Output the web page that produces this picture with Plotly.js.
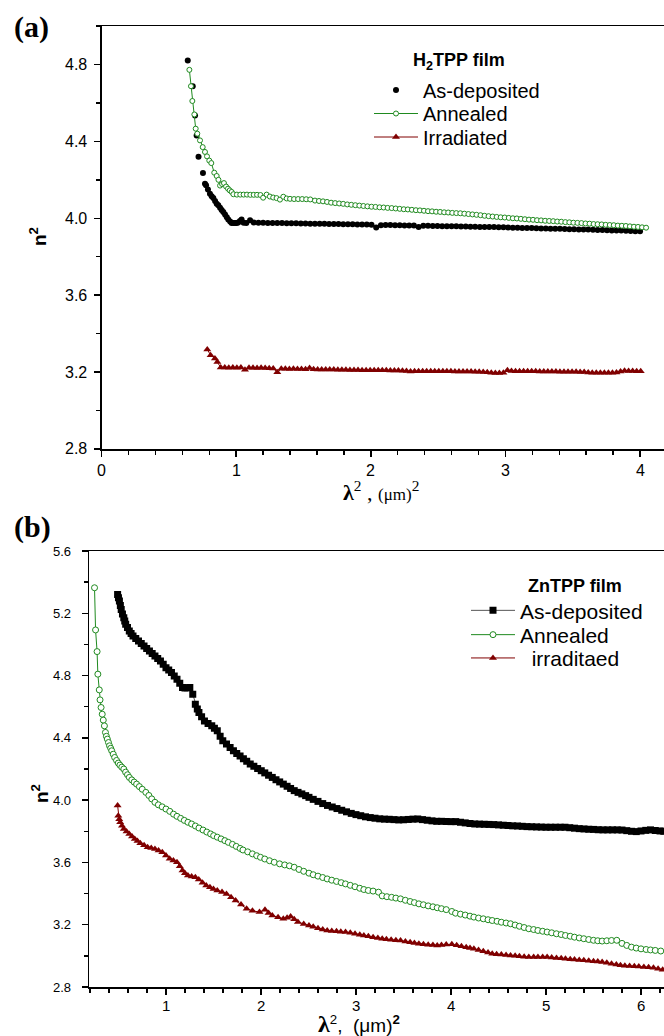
<!DOCTYPE html>
<html><head><meta charset="utf-8">
<script src="https://cdn.plot.ly/plotly-3.0.1.min.js"></script>
<style>html,body{margin:0;padding:0;background:#fff}#chart{width:664px;height:1036px}</style>
</head><body><div id="chart"></div>
<script>
// ---------- Panel (a): H2TPP film ----------
const aDep = [[0.640,4.820],[0.677,4.687],[0.694,4.535],[0.706,4.430],[0.720,4.320],[0.753,4.235],[0.768,4.180],[0.776,4.172],[0.790,4.150],[0.805,4.128],[0.818,4.115],[0.830,4.105],[0.843,4.090],[0.855,4.076],[0.867,4.068],[0.880,4.055],[0.892,4.043],[0.904,4.033],[0.917,4.020],[0.930,4.005],[0.941,3.993],[0.955,3.983],[0.966,3.976],[0.980,3.975],[0.992,3.976],[1.003,3.976],[1.015,3.978],[1.028,3.986],[1.040,3.993],[1.055,3.977],[1.075,3.975],[1.103,3.990],
[1.130,3.978],[1.165,3.977],[1.200,3.977],[1.235,3.976],[1.270,3.976],[1.305,3.975],[1.340,3.975],[1.375,3.974],[1.410,3.974],[1.445,3.974],[1.480,3.973],[1.515,3.973],[1.550,3.972],[1.585,3.972],[1.620,3.971],[1.655,3.971],[1.690,3.970],[1.725,3.970],[1.760,3.970],[1.795,3.969],[1.830,3.969],[1.865,3.969],[1.900,3.968],[1.935,3.968],[1.970,3.967],[2.005,3.966],[2.040,3.952],[2.075,3.964],[2.110,3.965],[2.145,3.965],[2.180,3.964],[2.215,3.964],[2.250,3.963],[2.285,3.963],[2.320,3.962],[2.355,3.954],[2.390,3.961],[2.425,3.961],[2.460,3.960],[2.495,3.960],[2.530,3.959],[2.565,3.959],[2.600,3.958],[2.635,3.958],[2.670,3.957],[2.705,3.957],[2.740,3.956],[2.775,3.956],[2.810,3.955],[2.845,3.955],[2.880,3.954],[2.915,3.954],[2.950,3.953],[2.985,3.953],[3.020,3.952],[3.055,3.951],[3.090,3.951],[3.125,3.950],[3.160,3.949],[3.195,3.949],[3.230,3.948],[3.265,3.947],[3.300,3.947],[3.335,3.946],[3.370,3.945],[3.405,3.945],[3.440,3.944],[3.475,3.943],[3.510,3.943],[3.545,3.942],[3.580,3.941],[3.615,3.941],[3.650,3.940],[3.685,3.939],[3.720,3.939],[3.755,3.938],[3.790,3.937],[3.825,3.937],[3.860,3.936],[3.895,3.935],[3.930,3.934],[3.965,3.933],[4.000,3.932]];

const aAnn = [[0.652,4.772],[0.664,4.687],[0.674,4.610],[0.689,4.540],[0.699,4.466],[0.711,4.440],[0.731,4.405],[0.751,4.370],[0.768,4.345],[0.783,4.322],[0.800,4.300],[0.815,4.287],[0.837,4.237],[0.855,4.220],[0.868,4.200],[0.880,4.170],[0.895,4.178],[0.909,4.183],[0.925,4.165],[0.939,4.154],[0.952,4.145],[0.966,4.137],[0.979,4.125],
[1.005,4.123],[1.030,4.123],[1.055,4.123],[1.080,4.123],[1.105,4.122],[1.130,4.122],[1.155,4.122],[1.180,4.121],[1.200,4.107],[1.226,4.123],[1.250,4.113],[1.275,4.108],[1.300,4.105],[1.325,4.097],[1.350,4.112],[1.375,4.103],[1.400,4.101],[1.430,4.100],[1.460,4.100],[1.490,4.100],[1.520,4.099],[1.550,4.098],[1.585,4.092],
[1.615,4.090],[1.645,4.088],[1.675,4.085],[1.705,4.081],[1.735,4.079],[1.765,4.077],[1.795,4.075],[1.825,4.072],[1.855,4.070],[1.885,4.068],[1.915,4.066],[1.945,4.064],[1.975,4.062],[2.005,4.060],[2.035,4.059],[2.065,4.057],[2.095,4.056],[2.125,4.054],[2.155,4.053],[2.185,4.051],[2.215,4.049],[2.245,4.047],[2.275,4.046],[2.305,4.044],[2.335,4.042],[2.365,4.041],[2.395,4.039],[2.425,4.037],[2.455,4.036],[2.485,4.034],[2.515,4.033],[2.545,4.031],[2.575,4.030],[2.605,4.028],[2.635,4.027],[2.665,4.026],[2.695,4.024],[2.725,4.022],[2.755,4.020],[2.785,4.018],[2.815,4.016],[2.845,4.013],[2.875,4.011],[2.905,4.009],[2.935,4.007],[2.965,4.005],[2.995,4.004],[3.025,4.002],[3.055,4.000],[3.085,3.999],[3.115,3.997],[3.145,3.995],[3.175,3.993],[3.205,3.992],[3.235,3.990],[3.265,3.989],[3.295,3.987],[3.325,3.986],[3.355,3.985],[3.385,3.983],[3.415,3.982],[3.445,3.980],[3.475,3.979],[3.505,3.977],[3.535,3.976],[3.565,3.975],[3.595,3.973],[3.625,3.972],[3.655,3.970],[3.685,3.969],[3.715,3.968],[3.745,3.966],[3.775,3.965],[3.805,3.964],[3.835,3.962],[3.865,3.961],[3.895,3.960],[3.925,3.958],[3.955,3.956],[3.985,3.955],[4.015,3.953],[4.045,3.951]];

const aIrr = [[0.785,3.318],[0.810,3.288],[0.842,3.271],[0.860,3.253],[0.885,3.224],
[0.915,3.224],[0.945,3.223],[0.975,3.224],[1.005,3.223],[1.035,3.224],[1.065,3.212],[1.095,3.222],[1.125,3.222],[1.155,3.221],[1.185,3.222],[1.215,3.221],[1.245,3.220],[1.275,3.219],[1.305,3.199],[1.335,3.217],[1.365,3.217],[1.395,3.216],[1.425,3.217],[1.455,3.216],[1.485,3.216],[1.515,3.215],[1.545,3.221],[1.575,3.215],[1.605,3.214],[1.635,3.214],[1.665,3.213],[1.695,3.213],[1.725,3.213],[1.755,3.212],[1.785,3.212],[1.815,3.212],[1.845,3.211],[1.875,3.211],[1.905,3.211],[1.935,3.210],[1.965,3.210],[1.995,3.210],[2.025,3.209],[2.055,3.209],[2.085,3.209],[2.115,3.209],[2.145,3.208],[2.175,3.208],[2.205,3.208],[2.235,3.207],[2.265,3.206],[2.295,3.203],[2.325,3.204],[2.355,3.205],[2.385,3.205],[2.415,3.205],[2.445,3.205],[2.475,3.204],[2.505,3.204],[2.535,3.204],[2.565,3.204],[2.595,3.204],[2.625,3.203],[2.655,3.203],[2.685,3.203],[2.715,3.203],[2.745,3.203],[2.775,3.202],[2.805,3.202],[2.835,3.201],[2.865,3.199],[2.895,3.196],[2.925,3.195],[2.955,3.195],[2.985,3.197],[3.015,3.209],[3.045,3.206],[3.075,3.205],[3.105,3.205],[3.135,3.204],[3.165,3.204],[3.195,3.204],[3.225,3.204],[3.255,3.203],[3.285,3.203],[3.315,3.203],[3.345,3.203],[3.375,3.203],[3.405,3.202],[3.435,3.202],[3.465,3.202],[3.495,3.202],[3.525,3.202],[3.555,3.201],[3.585,3.200],[3.615,3.198],[3.645,3.197],[3.675,3.197],[3.705,3.197],[3.735,3.197],[3.765,3.197],[3.795,3.197],[3.825,3.198],[3.855,3.203],[3.885,3.207],[3.915,3.206],[3.945,3.206],[3.975,3.205],[4.005,3.205]];

// ---------- Panel (b): ZnTPP film ----------
const bDep = [[0.491,5.321],[0.500,5.300],[0.510,5.279],[0.520,5.250],[0.529,5.225],[0.542,5.195],[0.556,5.172],[0.566,5.150],[0.576,5.129],[0.595,5.108],[0.614,5.086],[0.633,5.070],[0.653,5.054],[0.682,5.038],[0.711,5.022],[0.740,5.006],[0.769,4.990],[0.797,4.974],[0.826,4.958],[0.855,4.942],[0.884,4.926],[0.913,4.910],[0.942,4.894],[0.971,4.873],[1.000,4.851],[1.029,4.835],[1.058,4.819],[1.087,4.798],[1.116,4.776],[1.145,4.750],[1.174,4.723],[1.200,4.720],[1.225,4.722],[1.251,4.723],[1.282,4.680],[1.309,4.616],[1.330,4.585],[1.347,4.563],[1.375,4.535],[1.405,4.509],[1.443,4.493],[1.482,4.477],[1.510,4.461],[1.540,4.445],[1.570,4.410],[1.598,4.381],[1.637,4.360],[1.675,4.338],[1.710,4.318],[1.745,4.300],[1.780,4.283],[1.815,4.266],[1.850,4.250],[1.887,4.232],[1.925,4.218],[1.965,4.203],[2.003,4.189],[2.040,4.175],[2.080,4.160],[2.119,4.146],[2.158,4.131],[2.197,4.117],[2.235,4.103],[2.275,4.089],[2.312,4.075],[2.350,4.061],[2.390,4.050],[2.430,4.040],[2.470,4.029],[2.505,4.018],[2.550,4.005],
[2.600,3.992],[2.650,3.978],[2.700,3.966],[2.750,3.956],[2.800,3.946],[2.850,3.935],[2.900,3.925],[2.950,3.915],[3.000,3.907],[3.050,3.900],[3.100,3.893],[3.150,3.888],[3.200,3.884],[3.250,3.880],[3.300,3.878],[3.350,3.877],[3.400,3.875],[3.450,3.873],[3.500,3.874],[3.550,3.876],[3.600,3.878],[3.650,3.879],[3.700,3.875],[3.750,3.871],[3.800,3.867],[3.850,3.864],[3.900,3.864],[3.950,3.863],[4.000,3.862],[4.050,3.862],[4.100,3.858],[4.150,3.854],[4.200,3.850],[4.250,3.847],[4.300,3.846],[4.350,3.845],[4.400,3.844],[4.450,3.843],[4.500,3.841],[4.550,3.839],[4.600,3.837],[4.650,3.835],[4.700,3.834],[4.750,3.832],[4.800,3.830],[4.850,3.829],[4.900,3.828],[4.950,3.827],[5.000,3.826],[5.050,3.826],[5.100,3.826],[5.150,3.826],[5.200,3.826],[5.250,3.823],[5.300,3.820],[5.350,3.817],[5.400,3.815],[5.450,3.813],[5.500,3.812],[5.550,3.810],[5.600,3.809],[5.650,3.809],[5.700,3.809],[5.750,3.809],[5.800,3.808],[5.850,3.804],[5.900,3.800],[5.950,3.798],[6.000,3.802],[6.050,3.806],[6.100,3.809],[6.150,3.805],[6.200,3.802],[6.240,3.800]];

const bAnn = [[0.248,5.364],[0.259,5.093],[0.275,4.954],[0.283,4.809],[0.298,4.708],[0.306,4.644],[0.317,4.595],[0.329,4.552],[0.340,4.514],[0.352,4.477],[0.363,4.435],[0.373,4.410],[0.383,4.392],[0.395,4.370],[0.406,4.349],[0.418,4.333],[0.429,4.317],[0.445,4.295],[0.460,4.274],[0.480,4.255],[0.498,4.238],[0.515,4.225],[0.535,4.212],[0.556,4.200],[0.575,4.180],[0.595,4.163],[0.614,4.146],[0.640,4.130],[0.665,4.116],[0.691,4.103],[0.720,4.087],[0.750,4.070],[0.788,4.050],[0.820,4.030],[0.850,4.008],[0.884,3.986],[0.920,3.970],[0.960,3.957],[1.000,3.943],[1.040,3.928],[1.080,3.910],[1.116,3.896],[1.155,3.883],[1.193,3.870],[1.231,3.858],[1.270,3.847],[1.310,3.834],[1.347,3.821],[1.390,3.808],[1.430,3.795],[1.470,3.783],[1.502,3.772],[1.540,3.762],[1.580,3.751],[1.620,3.740],[1.656,3.729],[1.700,3.716],[1.740,3.703],[1.780,3.690],[1.810,3.680],[1.860,3.668],[1.910,3.655],[1.955,3.643],[1.995,3.633],[2.040,3.622],[2.090,3.611],[2.140,3.601],[2.196,3.591],[2.250,3.584],[2.300,3.578],[2.350,3.569],[2.400,3.555],[2.450,3.543],[2.505,3.531],[2.550,3.521],[2.600,3.512],[2.650,3.503],[2.697,3.494],[2.745,3.486],[2.795,3.478],[2.845,3.470],[2.890,3.462],[2.940,3.453],[2.990,3.444],[3.040,3.434],[3.083,3.426],[3.130,3.420],[3.180,3.416],[3.237,3.409],[3.276,3.385],[3.325,3.380],[3.375,3.376],[3.420,3.371],[3.469,3.366],[3.520,3.357],[3.570,3.349],[3.615,3.342],[3.662,3.334],[3.710,3.328],[3.760,3.321],[3.810,3.315],[3.855,3.309],[3.900,3.303],[3.950,3.297],[4.009,3.285],[4.048,3.274],[4.100,3.268],[4.150,3.262],[4.200,3.255],[4.241,3.249],[4.290,3.243],[4.340,3.238],[4.390,3.232],[4.434,3.227],[4.485,3.222],[4.530,3.216],[4.580,3.211],[4.627,3.206],[4.675,3.198],[4.720,3.190],[4.770,3.182],[4.819,3.174],[4.870,3.169],[4.915,3.163],[4.965,3.158],[5.012,3.153],[5.060,3.148],[5.110,3.142],[5.160,3.137],[5.205,3.131],[5.255,3.126],[5.300,3.120],[5.350,3.115],[5.398,3.110],[5.450,3.105],[5.500,3.100],[5.545,3.097],[5.591,3.095],[5.640,3.097],[5.690,3.099],[5.745,3.100],[5.800,3.080],[5.850,3.067],[5.900,3.056],[5.950,3.050],[6.000,3.045],[6.054,3.041],[6.100,3.038],[6.150,3.035],[6.208,3.031]];

const bIrr = [[0.491,3.965],[0.498,3.900],[0.508,3.878],[0.518,3.858],[0.537,3.835],[0.556,3.815],[0.585,3.798],[0.614,3.783],[0.643,3.767],[0.672,3.751],[0.700,3.737],[0.730,3.723],[0.770,3.710],[0.807,3.697],[0.845,3.692],[0.884,3.687],[0.922,3.676],[0.961,3.665],[1.000,3.645],[1.039,3.623],[1.078,3.612],[1.116,3.601],[1.145,3.575],[1.174,3.548],[1.200,3.530],[1.231,3.516],[1.270,3.510],[1.309,3.505],[1.345,3.490],[1.385,3.470],[1.424,3.452],[1.463,3.440],[1.500,3.430],[1.540,3.420],[1.590,3.410],[1.637,3.398],[1.685,3.377],[1.733,3.356],[1.790,3.330],[1.849,3.302],[1.910,3.290],[1.984,3.281],[2.042,3.296],[2.080,3.275],[2.119,3.259],[2.180,3.248],[2.235,3.238],[2.275,3.245],[2.312,3.253],[2.350,3.235],[2.389,3.217],[2.450,3.205],[2.505,3.195],[2.550,3.187],[2.600,3.178],[2.650,3.170],[2.697,3.163],[2.745,3.160],[2.795,3.158],[2.840,3.155],[2.890,3.153],[2.940,3.148],[2.990,3.142],[3.040,3.136],[3.083,3.131],[3.130,3.126],[3.180,3.120],[3.230,3.115],[3.276,3.110],[3.320,3.106],[3.370,3.103],[3.420,3.101],[3.469,3.099],[3.520,3.093],[3.570,3.087],[3.615,3.083],[3.662,3.078],[3.710,3.075],[3.760,3.072],[3.810,3.069],[3.855,3.067],[3.900,3.070],[3.950,3.073],[4.009,3.074],[4.060,3.068],[4.110,3.061],[4.160,3.055],[4.200,3.050],[4.241,3.046],[4.290,3.038],[4.340,3.030],[4.390,3.022],[4.434,3.014],[4.480,3.011],[4.530,3.008],[4.580,3.005],[4.627,3.003],[4.675,3.000],[4.720,2.998],[4.770,2.995],[4.819,2.992],[4.870,2.992],[4.915,2.992],[4.965,2.992],[5.012,2.992],[5.060,2.990],[5.110,2.987],[5.160,2.984],[5.205,2.982],[5.255,2.979],[5.300,2.976],[5.350,2.974],[5.398,2.971],[5.450,2.968],[5.500,2.965],[5.545,2.963],[5.591,2.960],[5.640,2.955],[5.690,2.949],[5.740,2.944],[5.784,2.939],[5.830,2.937],[5.880,2.935],[5.930,2.934],[5.977,2.932],[6.030,2.929],[6.080,2.927],[6.131,2.924],[6.180,2.918],[6.228,2.911]];

const namesA = ['As-deposited', 'Annealed', 'Irradiated'];
const namesB = ['As-deposited', 'Annealed', '\u00a0\u00a0irraditaed'];
const legendTitleA = '<b>H<sub>2</sub>TPP film</b>';
const legendTitleB = '<b>ZnTPP film</b>';

// tick labels
const xTicksA = [0, 1, 2, 3, 4];
const yTicksA = [2.8, 3.2, 3.6, 4.0, 4.4, 4.8];
const xTicksB = [1, 2, 3, 4, 5, 6];
const yTicksB = [2.8, 3.2, 3.6, 4.0, 4.4, 4.8, 5.2, 5.6];

const W = 664, H = 1036;
const px = v => v / W, py = v => 1 - v / H;
const X = d => d.map(p => p[0]), Y = d => d.map(p => p[1]);
const GREEN = '#1f8a1f', RED = '#800000';
const sans = 'Liberation Sans, Arial, sans-serif';
const serif = 'Liberation Serif, Times New Roman, serif';

const traces = [
  {x: X(aDep), y: Y(aDep), name: namesA[0], mode: 'markers', xaxis: 'x', yaxis: 'y', legend: 'legend',
   marker: {symbol: 'circle', size: 6, color: '#000'}},
  {x: X(aAnn), y: Y(aAnn), name: namesA[1], mode: 'lines+markers', xaxis: 'x', yaxis: 'y', legend: 'legend2',
   line: {color: GREEN, width: 1}, marker: {symbol: 'circle', size: 5, color: '#fff', line: {color: GREEN, width: 1}}},
  {x: X(aIrr), y: Y(aIrr), name: namesA[2], mode: 'lines+markers', xaxis: 'x', yaxis: 'y', legend: 'legend3',
   line: {color: RED, width: 1}, marker: {symbol: 'triangle-up', size: 7, color: RED}},
  {x: X(bDep), y: Y(bDep), name: namesB[0], mode: 'lines+markers', xaxis: 'x2', yaxis: 'y2', legend: 'legend4',
   line: {color: '#555', width: 1}, marker: {symbol: 'square', size: 7, color: '#000'}},
  {x: X(bAnn), y: Y(bAnn), name: namesB[1], mode: 'lines+markers', xaxis: 'x2', yaxis: 'y2', legend: 'legend5',
   line: {color: GREEN, width: 1}, marker: {symbol: 'circle', size: 6, color: '#fff', line: {color: GREEN, width: 1}}},
  {x: X(bIrr), y: Y(bIrr), name: namesB[2], mode: 'lines+markers', xaxis: 'x2', yaxis: 'y2', legend: 'legend6',
   line: {color: RED, width: 1}, marker: {symbol: 'triangle-up', size: 7, color: RED}}
];

function axis(extra) {
  return Object.assign({
    showline: true, linecolor: '#000', linewidth: 1.5, showgrid: false, zeroline: false,
    ticks: 'outside', ticklen: 6, tickwidth: 1.5, tickcolor: '#000', showticklabels: false,
    minor: {dtick: 0.2, ticks: 'outside', ticklen: 4, tickwidth: 1.5, tickcolor: '#000', showgrid: false},
    fixedrange: true
  }, extra);
}
function leg(xp, yp, size) {
  return {x: px(xp), y: py(yp), xanchor: 'left', yanchor: 'middle', bgcolor: 'rgba(0,0,0,0)',
    borderwidth: 0, itemwidth: 44, font: {family: sans, size: size, color: '#000'}};
}
function ann(text, xp, yp, font, extra) {
  return Object.assign({text: text, x: px(xp), y: py(yp), xref: 'paper', yref: 'paper',
    xanchor: 'center', yanchor: 'middle', showarrow: false, font: font}, extra || {});
}
// tick label texts placed through the axes' own scales
function xLabels(vals, xref, ypx, size) {
  return vals.map(v => ({text: String(v), x: v, xref: xref, y: py(ypx), yref: 'paper',
    xanchor: 'center', yanchor: 'middle', showarrow: false, font: {family: sans, size: size, color: '#000'}}));
}
function yLabels(vals, yref, xpx, size) {
  return vals.map(v => ({text: v.toFixed(1), x: px(xpx), xref: 'paper', y: v, yref: yref,
    xanchor: 'right', yanchor: 'middle', showarrow: false, font: {family: sans, size: size, color: '#000'}}));
}

const layout = {
  width: W, height: H, autosize: false, margin: {l: 0, r: 0, t: 0, b: 0},
  font: {family: sans, size: 14, color: '#000'},
  paper_bgcolor: '#fff', plot_bgcolor: '#fff', showlegend: true,
  xaxis: axis({domain: [px(101.6), 1], range: [0, 4.178], dtick: 1, tick0: 0, anchor: 'y', mirror: true}),
  yaxis: axis({domain: [py(449), py(26)], range: [2.8, 5.0], dtick: 0.4, tick0: 2.8, anchor: 'x'}),
  xaxis2: axis({domain: [px(89.3), 1], range: [0.193, 6.242], dtick: 1, tick0: 0, anchor: 'y2', mirror: true}),
  yaxis2: axis({domain: [py(987), py(551)], range: [2.8, 5.6], dtick: 0.4, tick0: 2.8, anchor: 'x2'}),
  legend: leg(369, 90, 20), legend2: leg(369, 113.5, 20), legend3: leg(369, 137, 20),
  legend4: leg(466, 610.7, 21), legend5: leg(466, 635, 21), legend6: leg(466, 658.3, 21),
  annotations: [].concat(
    xLabels(xTicksA, 'x', 470.5, 16),
    yLabels(yTicksA, 'y', 89, 16),
    xLabels(xTicksB, 'x2', 1005, 15),
    yLabels(yTicksB, 'y2', 73, 13),
    [
    ann('<b>(a)</b>', 31, 27.5, {family: serif, size: 30, color: '#000'}),
    ann('<b>(b)</b>', 32, 527, {family: serif, size: 30, color: '#000'}),
    ann('<b>n<sup>2</sup></b>', 38, 237, {family: sans, size: 19, color: '#000'}, {textangle: -90}),
    ann('<b>n<sup>2</sup></b>', 40, 794, {family: sans, size: 19, color: '#000'}, {textangle: -90}),
    ann('<b>λ</b><sup>2</sup> , <span style="font-size:17px">(μm)</span><sup>2</sup>', 381, 491, {family: serif, size: 22, color: '#000'}),
    ann('<span style="font-family:Liberation Serif;font-size:24px"><b>λ</b></span><sup>2</sup>,\u00a0 (μm)<b><sup>2</sup></b>', 359, 1024, {family: sans, size: 19, color: '#000'}),
    ann(legendTitleA, 459.5, 61, {family: sans, size: 18, color: '#000'}),
    ann(legendTitleB, 575, 586, {family: sans, size: 18, color: '#000'})
    ])
};

Plotly.newPlot('chart', traces, layout, {staticPlot: true, displayModeBar: false});
</script></body></html>
